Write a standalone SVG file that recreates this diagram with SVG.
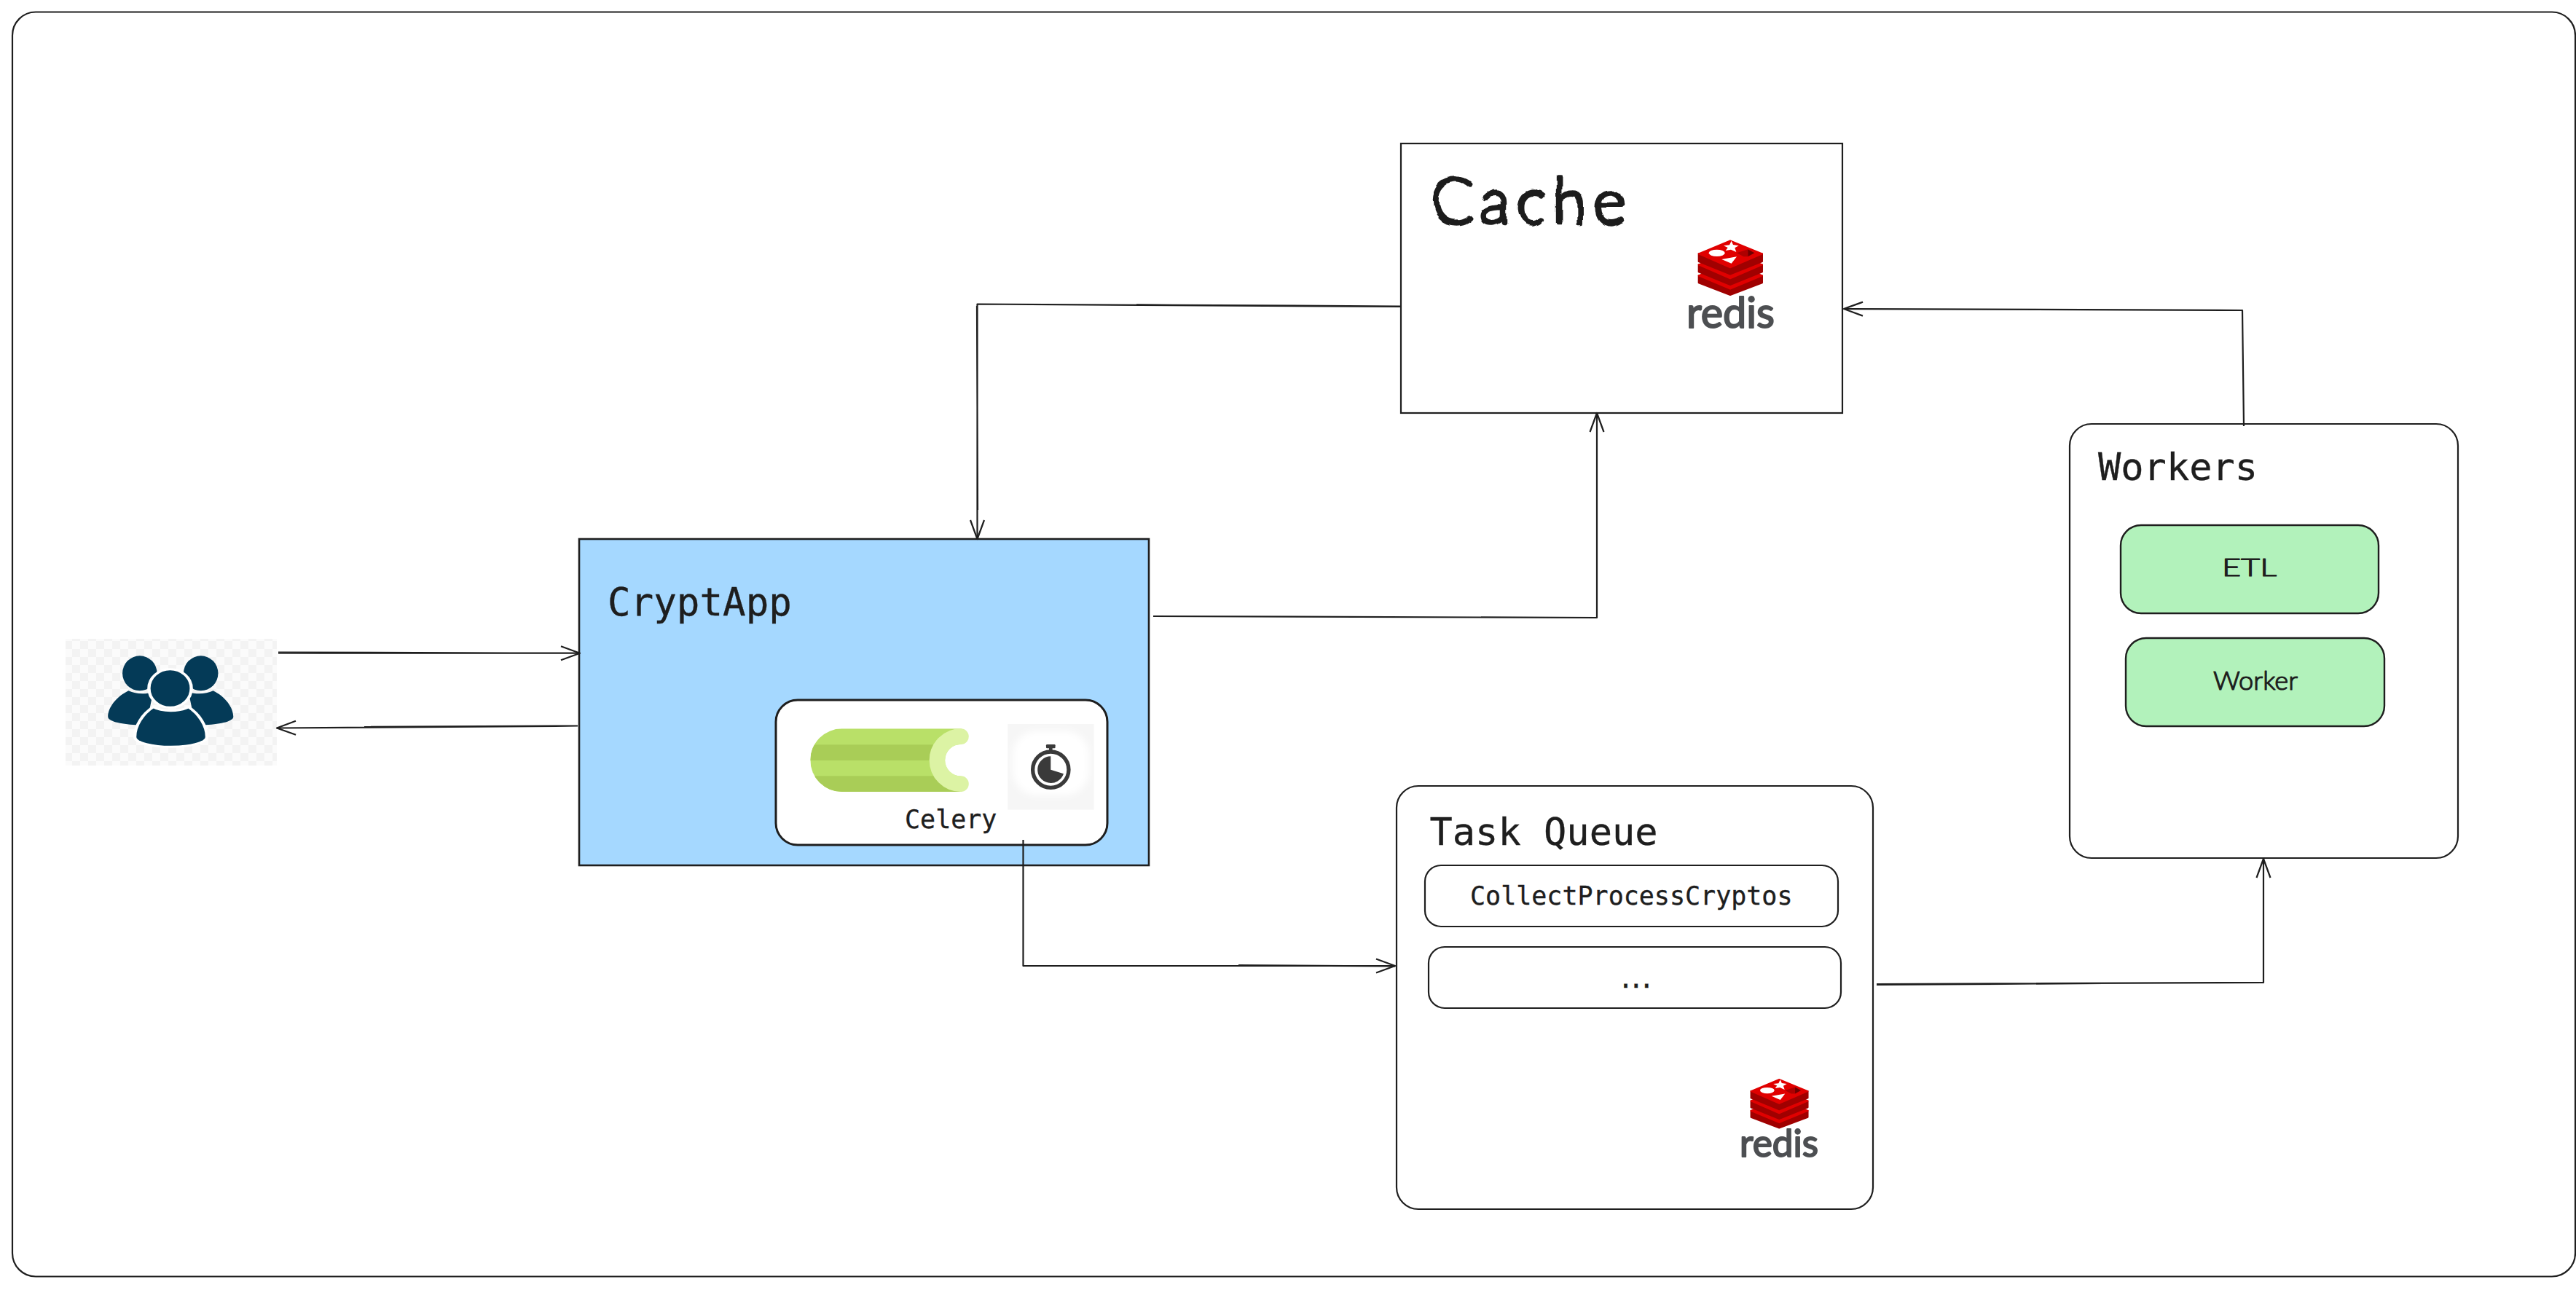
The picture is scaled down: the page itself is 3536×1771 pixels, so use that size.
<svg xmlns="http://www.w3.org/2000/svg" width="3536" height="1771" viewBox="0 0 3536 1771">
<style>
.box{fill:#fff;stroke:#1e1e1e;stroke-width:2.2}
.line{fill:none;stroke:#1e1e1e;stroke-width:2.2;stroke-linejoin:round}
.mono{font-family:"DejaVu Sans Mono","Liberation Mono",monospace;fill:#1e1e1e;stroke:#1e1e1e;stroke-width:.35}
.hand{font-family:"Lato","Open Sans",sans-serif;font-weight:300;fill:#1e1e1e;stroke:#1e1e1e;stroke-linejoin:round;stroke-linecap:round;filter:url(#wobble)}
.rtxt{font-family:"Lato","Open Sans",sans-serif;font-size:58px;fill:#4d4f52;stroke:#4d4f52;stroke-width:2;stroke-linejoin:round}
.ic{fill:#043a57}
</style>
<defs>
<filter id="wobble" x="-5%" y="-15%" width="110%" height="130%"><feTurbulence type="fractalNoise" baseFrequency="0.03" numOctaves="2" seed="7"/><feDisplacementMap in="SourceGraphic" scale="9" xChannelSelector="R" yChannelSelector="G"/></filter>
<filter id="soft" x="-10%" y="-10%" width="120%" height="120%"><feGaussianBlur stdDeviation="14"/></filter>
<marker id="arrow" markerUnits="userSpaceOnUse" markerWidth="40" markerHeight="40" refX="30" refY="20" orient="auto" viewBox="0 0 40 40"><path d="M4,10.500 L30,20 L4,29.500" fill="none" stroke="#1e1e1e" stroke-width="2.200" stroke-linejoin="round"/></marker>
<pattern id="check" width="22" height="22" patternUnits="userSpaceOnUse"><rect width="22" height="22" fill="#fbfbfb"/><rect width="11" height="11" fill="#f3f3f3"/><rect x="11" y="11" width="11" height="11" fill="#f3f3f3"/></pattern>
<clipPath id="celeryclip"><path d="M347,181H840V441H347A130,130 0 0 1 347,181Z"/></clipPath>
<g id="redisicon">
<g stroke-linejoin="round" stroke-width="6">
<path d="M35,175V205L165,255L297,205V175Z" fill="#a00000" stroke="#a00000"/>
<path d="M165,117L297,175L165,230L35,175Z" fill="#e00000" stroke="#e00000"/>
<path d="M35,130V160L165,213L297,160V130Z" fill="#a00000" stroke="#a00000"/>
<path d="M165,74L297,130L165,187L35,130Z" fill="#e00000" stroke="#e00000"/>
<path d="M35,85V117L165,170L297,117V85Z" fill="#a00000" stroke="#a00000"/>
<path d="M165,31L297,85L165,142L35,85Z" fill="#e00000" stroke="#e00000"/>
</g>
<path d="M170,32L177,48L200,52L184,61L190,78L168,68L146,72L155,60L138,52L162,49Z" fill="#fff"/>
<ellipse cx="110" cy="82" rx="33" ry="14" fill="#fff"/>
<path d="M130,108L192,97L170,125Z" fill="#fff"/>
<path d="M192,82L238,67V97H220Z" fill="#ad0000"/>
<path d="M238,67L265,82L238,97Z" fill="#6e0000"/>
</g>
</defs>
<rect width="3536" height="1771" fill="#fff"/>

<g id="frame"><rect class="box" x="17" y="16.500" width="3518" height="1736" rx="32"/></g>

<g id="users">
<rect x="90" y="877" width="290" height="174" fill="url(#check)"/>
<g transform="translate(60 840) scale(.4847 .3333)">
<path class="ic" d="M240,325C205,350 182,395 182,432C182,450 215,462 262,466L300,400L310,330C290,340 262,340 240,325Z"/>
<path class="ic" d="M480,325C515,350 537,395 537,432C537,450 505,462 458,466L420,400L410,330C430,340 458,340 480,325Z"/>
<ellipse class="ic" cx="272" cy="253" rx="49" ry="72"/>
<ellipse class="ic" cx="445" cy="253" rx="49" ry="72"/>
<path class="ic" stroke="#fff" stroke-width="9" d="M310,392C280,420 258,470 258,515C258,540 310,556 360,556C410,556 462,540 462,515C462,470 440,420 410,392C385,412 335,412 310,392Z"/>
<ellipse class="ic" stroke="#fff" stroke-width="9" cx="358" cy="315" rx="60" ry="79"/>
</g>
</g>

<g id="cryptapp">
<rect x="795" y="740" width="782" height="448" fill="#a5d8ff" stroke="#1e1e1e" stroke-width="2.600"/>
<text class="mono" x="834" y="845" font-size="52.500">CryptApp</text>
</g>

<g id="celery">
<rect class="box" x="1065" y="961" width="455" height="199" rx="30" style="stroke-width:3"/>
<g transform="translate(1040 940) scale(.3333)">
<g clip-path="url(#celeryclip)">
<rect x="200" y="170" width="660" height="280" fill="#b9e068"/>
<rect x="200" y="247" width="660" height="65" fill="#a9cd57"/>
<rect x="200" y="376" width="660" height="65" fill="#a9cd57"/>
</g>
<circle cx="837" cy="311" r="66" fill="#fff"/>
<rect x="837" y="245" width="40" height="132" fill="#fff"/>
<path d="M837,213.500A97.500,97.500 0 0 0 837,408.500" fill="none" stroke="#dcf3a4" stroke-width="65" stroke-linecap="round"/>
<rect x="1030" y="162" width="355" height="353" fill="#f6f6f6"/>
<rect x="1050" y="190" width="315" height="265" rx="100" fill="#fff" filter="url(#soft)"/>
<circle cx="1207" cy="350" r="74" fill="none" stroke="#3a3a3a" stroke-width="16"/>
<rect x="1188" y="246" width="38" height="16" rx="4" fill="#3a3a3a"/>
<rect x="1200" y="258" width="14" height="14" fill="#3a3a3a"/>
<path d="M1207,350L1207,295A55,55 0 1 0 1260,367Z" fill="#3a3a3a"/>
</g>
<text class="mono" x="1242" y="1137" font-size="35">Celery</text>
</g>

<g id="cache">
<rect class="box" x="1923" y="197" width="606" height="370"/>
<text class="hand" x="1964" y="307" font-size="86" stroke-width="4.500" textLength="268" lengthAdjust="spacing">Cache</text>
<use href="#redisicon" transform="translate(2320 320) scale(.3333)"/>
<text class="rtxt" x="2315" y="450" textLength="121" lengthAdjust="spacingAndGlyphs">redis</text>
</g>

<g id="taskqueue">
<rect class="box" x="1917" y="1079" width="654" height="581" rx="30"/>
<text class="mono" x="1962.500" y="1160" font-size="52">Task Queue</text>
</g>
<g id="task-collect">
<rect class="box" x="1956" y="1188" width="567" height="84" rx="22"/>
<text class="mono" x="2018" y="1242" font-size="35">CollectProcessCryptos</text>
</g>
<g id="task-more">
<rect class="box" x="1961" y="1300" width="566" height="84" rx="22"/>
<text class="mono" x="2221" y="1356" font-size="35" letter-spacing="-6.700">...</text>
</g>
<g id="queue-redis">
<use href="#redisicon" transform="translate(2393 1472.600) scale(.2985)"/>
<text class="rtxt" x="2388" y="1588" textLength="108" lengthAdjust="spacingAndGlyphs" style="font-size:52px">redis</text>
</g>

<g id="workers">
<rect class="box" x="2841" y="582" width="533" height="596" rx="30"/>
<text class="mono" x="2880" y="658.500" font-size="52">Workers</text>
</g>
<g id="worker-etl">
<rect x="2911" y="721" width="354" height="121" rx="28" fill="#b2f2bb" stroke="#1e1e1e" stroke-width="2.400"/>
<text class="hand" x="3050" y="791" font-size="33" stroke-width="1.200" textLength="75" lengthAdjust="spacingAndGlyphs" style="filter:none">ETL</text>
</g>
<g id="worker-worker">
<rect x="2918" y="876" width="355" height="121" rx="28" fill="#b2f2bb" stroke="#1e1e1e" stroke-width="2.400"/>
<text class="hand" x="3038" y="947" font-size="35" stroke-width="1.200" textLength="116" lengthAdjust="spacingAndGlyphs" style="filter:none">Worker</text>
</g>

<g id="connectors">
<path class="line" marker-end="url(#arrow)" d="M382,895.500L700,896.500M382,896.700H796"/>
<path class="line" marker-end="url(#arrow)" d="M793,996.500L500,998M793,996.700L380,999.500"/>
<path class="line" marker-end="url(#arrow)" d="M1922,420.500L1560,418.500M1341,420L1342,700M1922,421L1341.500,417.500V740"/>
<path class="line" marker-end="url(#arrow)" d="M1583,846L2192,848V567"/>
<path class="line" marker-end="url(#arrow)" d="M3080,585L3078,426L2531,424"/>
<path class="line" marker-end="url(#arrow)" d="M1700,1325L1915,1326.500M1404.500,1153V1326H1915"/>
<path class="line" marker-end="url(#arrow)" d="M2576,1352L2950,1349.500M2576,1351L3107,1349V1179"/>
</g>
</svg>
